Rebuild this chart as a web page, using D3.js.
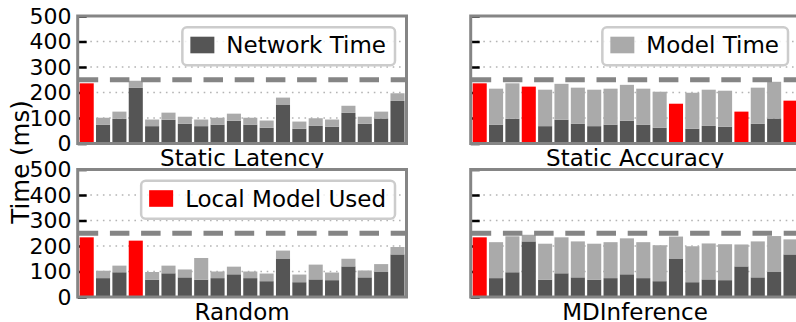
<!DOCTYPE html>
<html>
<head>
<meta charset="utf-8">
<script src="https://cdn.jsdelivr.net/npm/d3@7"></script>
<style>
  html, body { margin: 0; padding: 0; background: #fff; }
  svg { display: block; font-family: "DejaVu Sans", sans-serif; }
</style>
</head>
<body>
<svg id="chart" width="796" height="322"></svg>
<script>
// Request index (20 consecutive inference requests)
const requests = [1, 2, 3, 4, 5, 6, 7, 8, 9, 10, 11, 12, 13, 14, 15, 16, 17, 18, 19, 20];

// Network time per request (ms); the first request never goes remote
const networkTime = [null, 74, 97, 218, 68, 93, 77, 68, 74, 89, 74, 62, 151, 58, 69, 66, 120, 77, 98, 167];

// Static Latency: remote model time and on-device fallback time (ms)
const latencyModel = [null, 27, 28, 28, 26, 28, 28, 26, 27, 28, 27, 28, 29, 28, 30, 28, 28, 28, 27, 30];
const latencyLocal = [236, null, null, null, null, null, null, null, null, null, null, null, null, null, null, null, null, null, null, null];

// Static Accuracy
const accuracyModel = [null, 141, 139, null, 143, 141, 142, 143, 141, 141, 141, 141, null, 141, 142, 141, null, 142, 144, null];
const accuracyLocal = [236, null, null, 223, null, null, null, null, null, null, null, null, 156, null, null, null, 125, null, null, 168];

// Random
const randomModel = [null, 29, 26, null, 30, 30, 31, 85, 26, 30, 26, 30, 31, 30, 58, 30, 30, 27, 31, 29];
const randomLocal = [234, null, null, 221, null, null, null, null, null, null, null, null, null, null, null, null, null, null, null, null];

// MDInference
const mdModel = [null, 141, 141, 26, 141, 141, 141, 141, 141, 141, 141, 141, 86, 141, 141, 141, 86, 141, 141, 59];
const mdLocal = [234, null, null, null, null, null, null, null, null, null, null, null, null, null, null, null, null, null, null, null];

const yTicks = [0, 100, 200, 300, 400, 500];
const slaDeadline = 250;

const panels = [
  { title: "Static Latency",  model: latencyModel,  local: latencyLocal,  col: 0, row: 0, legend: { label: "Network Time",     color: "#555555" } },
  { title: "Static Accuracy", model: accuracyModel, local: accuracyLocal, col: 1, row: 0, legend: { label: "Model Time",       color: "#aaaaaa" } },
  { title: "Random",          model: randomModel,   local: randomLocal,   col: 0, row: 1, legend: { label: "Local Model Used", color: "#ff0000" } },
  { title: "MDInference",     model: mdModel,       local: mdLocal,       col: 1, row: 1, legend: null }
];

const COLORS = { network: "#555555", model: "#aaaaaa", local: "#ff0000", frame: "#858585", grid: "#b4b4b4" };

const svg = d3.select("#chart");

const colX = [[77.7, 406.5], [470.7, 799.5]];
const rowY = [[143.5, 16], [297, 169.5]];

panels.forEach(p => {
  const [x0, x1] = colX[p.col];
  const [yb, yt] = rowY[p.row];

  const x = d3.scaleBand().domain(requests).range([x0, x1]).paddingInner(0.14).paddingOuter(0.12);
  const y = d3.scaleLinear().domain([0, 500]).range([yb, yt]);

  const g = svg.append("g");

  // dotted grid
  g.append("g").selectAll("line")
    .data(yTicks.filter(t => t > 0 && t < 500))
    .join("line")
    .attr("x1", x0).attr("x2", x1)
    .attr("y1", d => y(d)).attr("y2", d => y(d))
    .attr("stroke", COLORS.grid)
    .attr("stroke-width", 1.6)
    .attr("stroke-dasharray", "1.6,4.7");

  // inward tick marks
  const axis = d3.axisRight(y).tickValues(yTicks).tickSize(9).tickFormat("");
  const ax = g.append("g").attr("transform", `translate(${x0},0)`).call(axis);
  ax.select(".domain").remove();
  ax.selectAll(".tick line").attr("stroke", "#000").attr("stroke-width", 2.5);

  // tick labels on the left column only
  if (p.col === 0) {
    g.append("g").selectAll("text")
      .data(yTicks)
      .join("text")
      .attr("x", 71.5)
      .attr("y", d => y(d))
      .attr("dy", "0.36em")
      .attr("text-anchor", "end")
      .attr("font-size", 22)
      .attr("fill", "#000")
      .text(d => d);
  }

  const rows = requests.map((r, i) => ({
    r, net: networkTime[i], model: p.model[i], local: p.local[i]
  }));

  // local model bars
  g.append("g").selectAll("rect")
    .data(rows.filter(d => d.local != null))
    .join("rect")
    .attr("x", d => x(d.r)).attr("width", x.bandwidth())
    .attr("y", d => y(d.local)).attr("height", d => y(0) - y(d.local))
    .attr("fill", COLORS.local);

  const remote = rows.filter(d => d.local == null);
  // network portion
  g.append("g").selectAll("rect")
    .data(remote)
    .join("rect")
    .attr("x", d => x(d.r)).attr("width", x.bandwidth())
    .attr("y", d => y(d.net)).attr("height", d => y(0) - y(d.net))
    .attr("fill", COLORS.network);
  // model portion stacked on top
  g.append("g").selectAll("rect")
    .data(remote)
    .join("rect")
    .attr("x", d => x(d.r)).attr("width", x.bandwidth())
    .attr("y", d => y(d.net + d.model)).attr("height", d => y(d.net) - y(d.net + d.model))
    .attr("fill", COLORS.model);

  // deadline
  g.append("line")
    .attr("x1", x0 + 1).attr("x2", x1)
    .attr("y1", y(slaDeadline)).attr("y2", y(slaDeadline))
    .attr("stroke", COLORS.frame)
    .attr("stroke-width", 5)
    .attr("stroke-dasharray", "19.5,11.7");

  // frame
  g.append("rect")
    .attr("x", x0).attr("y", yt)
    .attr("width", x1 - x0).attr("height", yb - yt)
    .attr("fill", "none")
    .attr("stroke", COLORS.frame)
    .attr("stroke-width", 3);

  // panel title
  g.append("text")
    .attr("x", (x0 + x1) / 2)
    .attr("y", yb + 22.5)
    .attr("text-anchor", "middle")
    .attr("font-size", 23)
    .attr("fill", "#000")
    .text(p.title);

  // legend
  if (p.legend) {
    const lg = g.append("g");
    const top = yt + 11.3;
    const right = x1 - 11.5;
    const box = lg.append("rect");
    const label = lg.append("text")
      .attr("font-size", 23)
      .attr("fill", "#000")
      .text(p.legend.label);
    const tw = label.node().getComputedTextLength();
    const w = 8 + 24 + 12 + tw + 9;
    const left = right - w;
    box.attr("x", left).attr("y", top)
      .attr("width", w).attr("height", 38)
      .attr("rx", 4.5)
      .attr("fill", "#fff").attr("fill-opacity", 0.8)
      .attr("stroke", "#cccccc").attr("stroke-width", 2.5);
    lg.append("rect")
      .attr("x", left + 8).attr("y", top + 9.4)
      .attr("width", 24).attr("height", 16.6)
      .attr("fill", p.legend.color);
    label.attr("x", left + 44).attr("y", top + 26);
  }
});

// shared y-axis label
svg.append("text")
  .attr("transform", "translate(29,162) rotate(-90)")
  .attr("text-anchor", "middle")
  .attr("font-size", 24.5)
  .attr("fill", "#000")
  .text("Time (ms)");
</script>
</body>
</html>
